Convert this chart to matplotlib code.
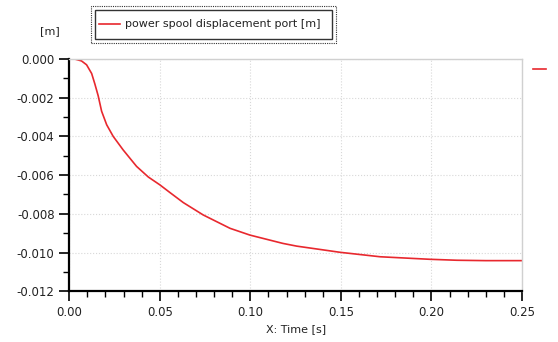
import matplotlib
matplotlib.use("Agg")
import matplotlib.pyplot as plt
from matplotlib.ticker import MultipleLocator, FormatStrFormatter
from matplotlib.lines import Line2D
from matplotlib.patches import Rectangle

# values
time_s = [0.0, 0.003, 0.0068, 0.0096, 0.0124, 0.0142, 0.016, 0.0179, 0.0207,
          0.0243, 0.0298, 0.0372, 0.0437, 0.05, 0.0556, 0.063, 0.074, 0.0888,
          0.0998, 0.118, 0.1256, 0.1496, 0.1717, 0.199, 0.214, 0.23, 0.25]
displacement_m = [0.0, 0.0, -0.0001, -0.0003, -0.00075, -0.0013, -0.0019, -0.0027,
                  -0.0034, -0.0040, -0.0047, -0.00555, -0.0061, -0.0065, -0.0069,
                  -0.00742, -0.00806, -0.00875, -0.0091, -0.00953, -0.00967,
                  -0.00999, -0.01022, -0.01035, -0.0104, -0.01042, -0.01042]
series_label = "power spool displacement port [m]"

plt.rcParams["font.family"] = ["DejaVu Sans"]

fig = plt.figure(figsize=(5.58, 3.42), dpi=100)
ax = fig.add_axes([0.124, 0.1485, 0.8115, 0.679])

ax.plot(time_s, displacement_m, color="#e8282e", lw=1.2)

ax.set_xlim(0, 0.25)
ax.set_ylim(-0.012, 0.0)
ax.xaxis.set_major_locator(MultipleLocator(0.05))
ax.xaxis.set_minor_locator(MultipleLocator(0.01))
ax.yaxis.set_major_locator(MultipleLocator(0.002))
ax.yaxis.set_minor_locator(MultipleLocator(0.001))
ax.xaxis.set_major_formatter(FormatStrFormatter("%.2f"))
ax.yaxis.set_major_formatter(FormatStrFormatter("%.3f"))

ax.tick_params(which="major", direction="out", length=7.5, width=1.2,
               labelsize=8.5, color="black", labelcolor="#222222", pad=3)
ax.tick_params(which="minor", direction="out", length=4, width=1.0, color="black")

ax.grid(True, which="major", color="#d8d8d8", ls=":", lw=0.8)
for side in ("left", "bottom"):
    ax.spines[side].set_color("black")
    ax.spines[side].set_linewidth(1.6)
for side in ("top", "right"):
    ax.spines[side].set_color("#d0d0d0")
    ax.spines[side].set_linewidth(1.0)

ax.set_xlabel("X: Time [s]", fontsize=8, color="#222222", labelpad=4)
fig.text(50 / 558, 1 - 31 / 342, "[m]", fontsize=8, color="#222222",
         ha="center", va="center")

# legend box (dotted outer frame, solid inner frame)
outer = Rectangle((91 / 558, 1 - 43 / 342), 245 / 558, 37 / 342,
                  transform=fig.transFigure, fill=False, ec="#333333",
                  ls=(0, (1, 1)), lw=0.8)
inner = Rectangle((95 / 558, 1 - 38.5 / 342), 237 / 558, 29 / 342,
                  transform=fig.transFigure, fill=False, ec="#333333", lw=1.0)
fig.patches.extend([outer, inner])
fig.lines.append(Line2D([99 / 558, 120 / 558], [1 - 24 / 342, 1 - 24 / 342],
                        transform=fig.transFigure, color="#e8282e", lw=1.2))
fig.text(125 / 558, 1 - 24 / 342, series_label, fontsize=8, color="#222222",
         ha="left", va="center")

# clipped legend marker at the right edge
fig.lines.append(Line2D([533 / 558, 546 / 558], [1 - 69 / 342, 1 - 69 / 342],
                        transform=fig.transFigure, color="#e8282e", lw=1.2))

fig.savefig("out.png", dpi=100)
